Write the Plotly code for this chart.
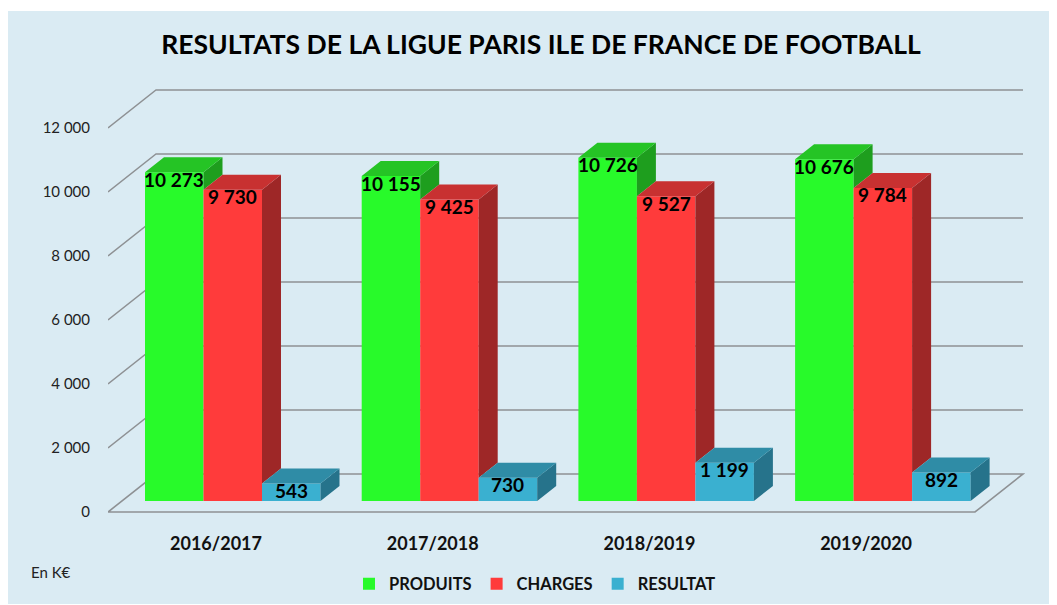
import plotly.graph_objects as go

# ---------------- data ----------------
categories = ["2016/2017", "2017/2018", "2018/2019", "2019/2020"]
series_names = ["PRODUITS", "CHARGES", "RESULTAT"]
produits = [10273, 10155, 10726, 10676]
charges = [9730, 9425, 9527, 9784]
resultat = [543, 730, 1199, 892]
y_tick_values = [0, 2000, 4000, 6000, 8000, 10000, 12000]
y_tick_labels = ["0", "2 000", "4 000", "6 000", "8 000", "10 000", "12 000"]

# ---------------- styling / geometry ----------------
# the page body has an 8px margin, so the figure is drawn at (8, 8)
OFF = 8
W, H = 1057 - OFF, 605 - OFF
ML, MB, MT = 108 - OFF, 85, 0
PW, PH = W - ML, H - MB - MT      # plot area size in px
UPP = 31.25                       # y units per pixel
XR = [108, 108 + PW]              # x axis in screen pixels
YR = [-250, -250 + PH * UPP]
BG = "#DAEBF3"
GRID = "#8E9194"

front = ["#28FA2A", "#FF3B3B", "#3AB0D0"]
top_c = ["#25C425", "#C83131", "#2F8CA6"]
side_c = ["#1E9E1E", "#9E2727", "#26738B"]

WALL_DX = 48                      # depth offset of back wall (px)
WALL_DY = 38 * UPP
BAR_DX = 19                       # depth of bars (px)
BAR_DY = 15 * UPP
BASE = 11 * UPP                   # bar base above floor front edge
GROUP0 = 145
GROUP_STEP = 216.7
BAR_W = 58.5
CAT_OFF = 71
FLOOR_RIGHT = 975


def px_paper_x(px):
    return (px - OFF - ML) / PW


def px_paper_y(py):
    return (MT + PH - (py - OFF)) / PH


def px_cont_x(px):
    return (px - OFF) / W


def px_cont_y(py):
    return 1 - (py - OFF) / H


values = [produits, charges, resultat]

fig = go.Figure()

# front faces as real bars
for s, name in enumerate(series_names):
    xs = [GROUP0 + k * GROUP_STEP + s * BAR_W + BAR_W / 2 for k in range(len(categories))]
    fig.add_trace(go.Bar(
        x=xs, y=values[s], base=BASE, width=BAR_W, name=name,
        marker=dict(color=front[s], line=dict(width=0)),
        hoverinfo="skip",
    ))

# side and top faces (computed from values)
for s in range(len(series_names)):
    sx, sy, tx, ty = [], [], [], []
    for k in range(len(categories)):
        L = GROUP0 + k * GROUP_STEP + s * BAR_W
        R = L + BAR_W
        T = BASE + values[s][k]
        Tn = BASE + values[s + 1][k] if s + 1 < len(series_names) else BASE
        Tn = min(Tn, T)
        sx += [R, R + BAR_DX, R + BAR_DX, R, R, None]
        sy += [Tn, Tn + BAR_DY, T + BAR_DY, T, Tn, None]
        tx += [L, R, R + BAR_DX, L + BAR_DX, L, None]
        ty += [T, T, T + BAR_DY, T + BAR_DY, T, None]
    fig.add_trace(go.Scatter(x=sx, y=sy, mode="lines", fill="toself",
                             fillcolor=side_c[s], line=dict(width=0, color=side_c[s]),
                             hoverinfo="skip", showlegend=False))
    fig.add_trace(go.Scatter(x=tx, y=ty, mode="lines", fill="toself",
                             fillcolor=top_c[s], line=dict(width=0, color=top_c[s]),
                             hoverinfo="skip", showlegend=False))

shapes = []
# light blue background (white strip at top)
shapes.append(dict(type="rect", xref="paper", yref="paper", layer="below",
                   x0=px_paper_x(OFF), x1=px_paper_x(1060),
                   y0=px_paper_y(604), y1=px_paper_y(11),
                   fillcolor=BG, line=dict(width=0)))
# floor
fx0, fx1 = XR[0], FLOOR_RIGHT
shapes.append(dict(type="path", xref="x", yref="y", layer="below",
                   path=f"M{fx0},0 L{fx1},0 L{fx1 + WALL_DX},{WALL_DY} L{fx0 + WALL_DX},{WALL_DY} Z",
                   fillcolor=BG, line=dict(color=GRID, width=1.6)))
# wall grid lines
for v in y_tick_values[1:]:
    shapes.append(dict(type="path", xref="x", yref="y", layer="below",
                       path=f"M{fx0},{v} L{fx0 + WALL_DX},{v + WALL_DY} L{fx1 + WALL_DX},{v + WALL_DY}",
                       line=dict(color=GRID, width=1.4)))

annotations = []
for s in range(len(series_names)):
    for k in range(len(categories)):
        xc = GROUP0 + k * GROUP_STEP + s * BAR_W + BAR_W / 2
        annotations.append(dict(
            x=xc, y=BASE + values[s][k], xref="x", yref="y",
            text=f"{values[s][k]:,}".replace(",", " "), showarrow=False,
            yshift=-7, yanchor="middle", xanchor="center",
            font=dict(family="Lato", size=19, color="#000000", weight="bold")))
annotations.append(dict(x=px_paper_x(29), y=px_paper_y(572), xref="paper", yref="paper",
                        text="En K€", showarrow=False, xanchor="left", yanchor="middle",
                        font=dict(family="Lato", size=15, color="#222222")))

fig.update_layout(
    width=W, height=H,
    margin=dict(l=ML, r=0, t=MT, b=MB, pad=0, autoexpand=False),
    paper_bgcolor="white", plot_bgcolor="rgba(0,0,0,0)",
    barmode="overlay",
    showlegend=True,
    title=dict(text="RESULTATS DE LA LIGUE PARIS ILE DE FRANCE DE FOOTBALL",
               x=px_cont_x(541), y=px_cont_y(45), xref="container", yref="container",
               xanchor="center", yanchor="middle",
               font=dict(family="Lato", size=26.5, color="#000000", weight="bold")),
    xaxis=dict(range=XR, showgrid=False, zeroline=False, showline=False,
               tickvals=[GROUP0 + k * GROUP_STEP + CAT_OFF for k in range(len(categories))],
               ticktext=categories, ticks="outside", ticklen=7, tickcolor="rgba(0,0,0,0)",
               tickfont=dict(family="Lato", size=18, color="#111111", weight="bold"),
               fixedrange=True, automargin=False),
    yaxis=dict(range=YR, showgrid=False, zeroline=False, showline=False,
               tickvals=y_tick_values, ticktext=y_tick_labels,
               ticks="outside", ticklen=14, tickcolor="rgba(0,0,0,0)",
               tickfont=dict(family="Lato", size=15, color="#222222"),
               fixedrange=True, automargin=False),
    legend=dict(orientation="h", xref="container", yref="container",
                x=px_cont_x(349), y=px_cont_y(584), xanchor="left", yanchor="middle",
                bgcolor="rgba(0,0,0,0)",
                font=dict(family="Lato", size=16.5, color="#111111", weight="bold"),
                traceorder="normal"),
    shapes=shapes,
    annotations=annotations,
)

fig.write_html("out.html")
